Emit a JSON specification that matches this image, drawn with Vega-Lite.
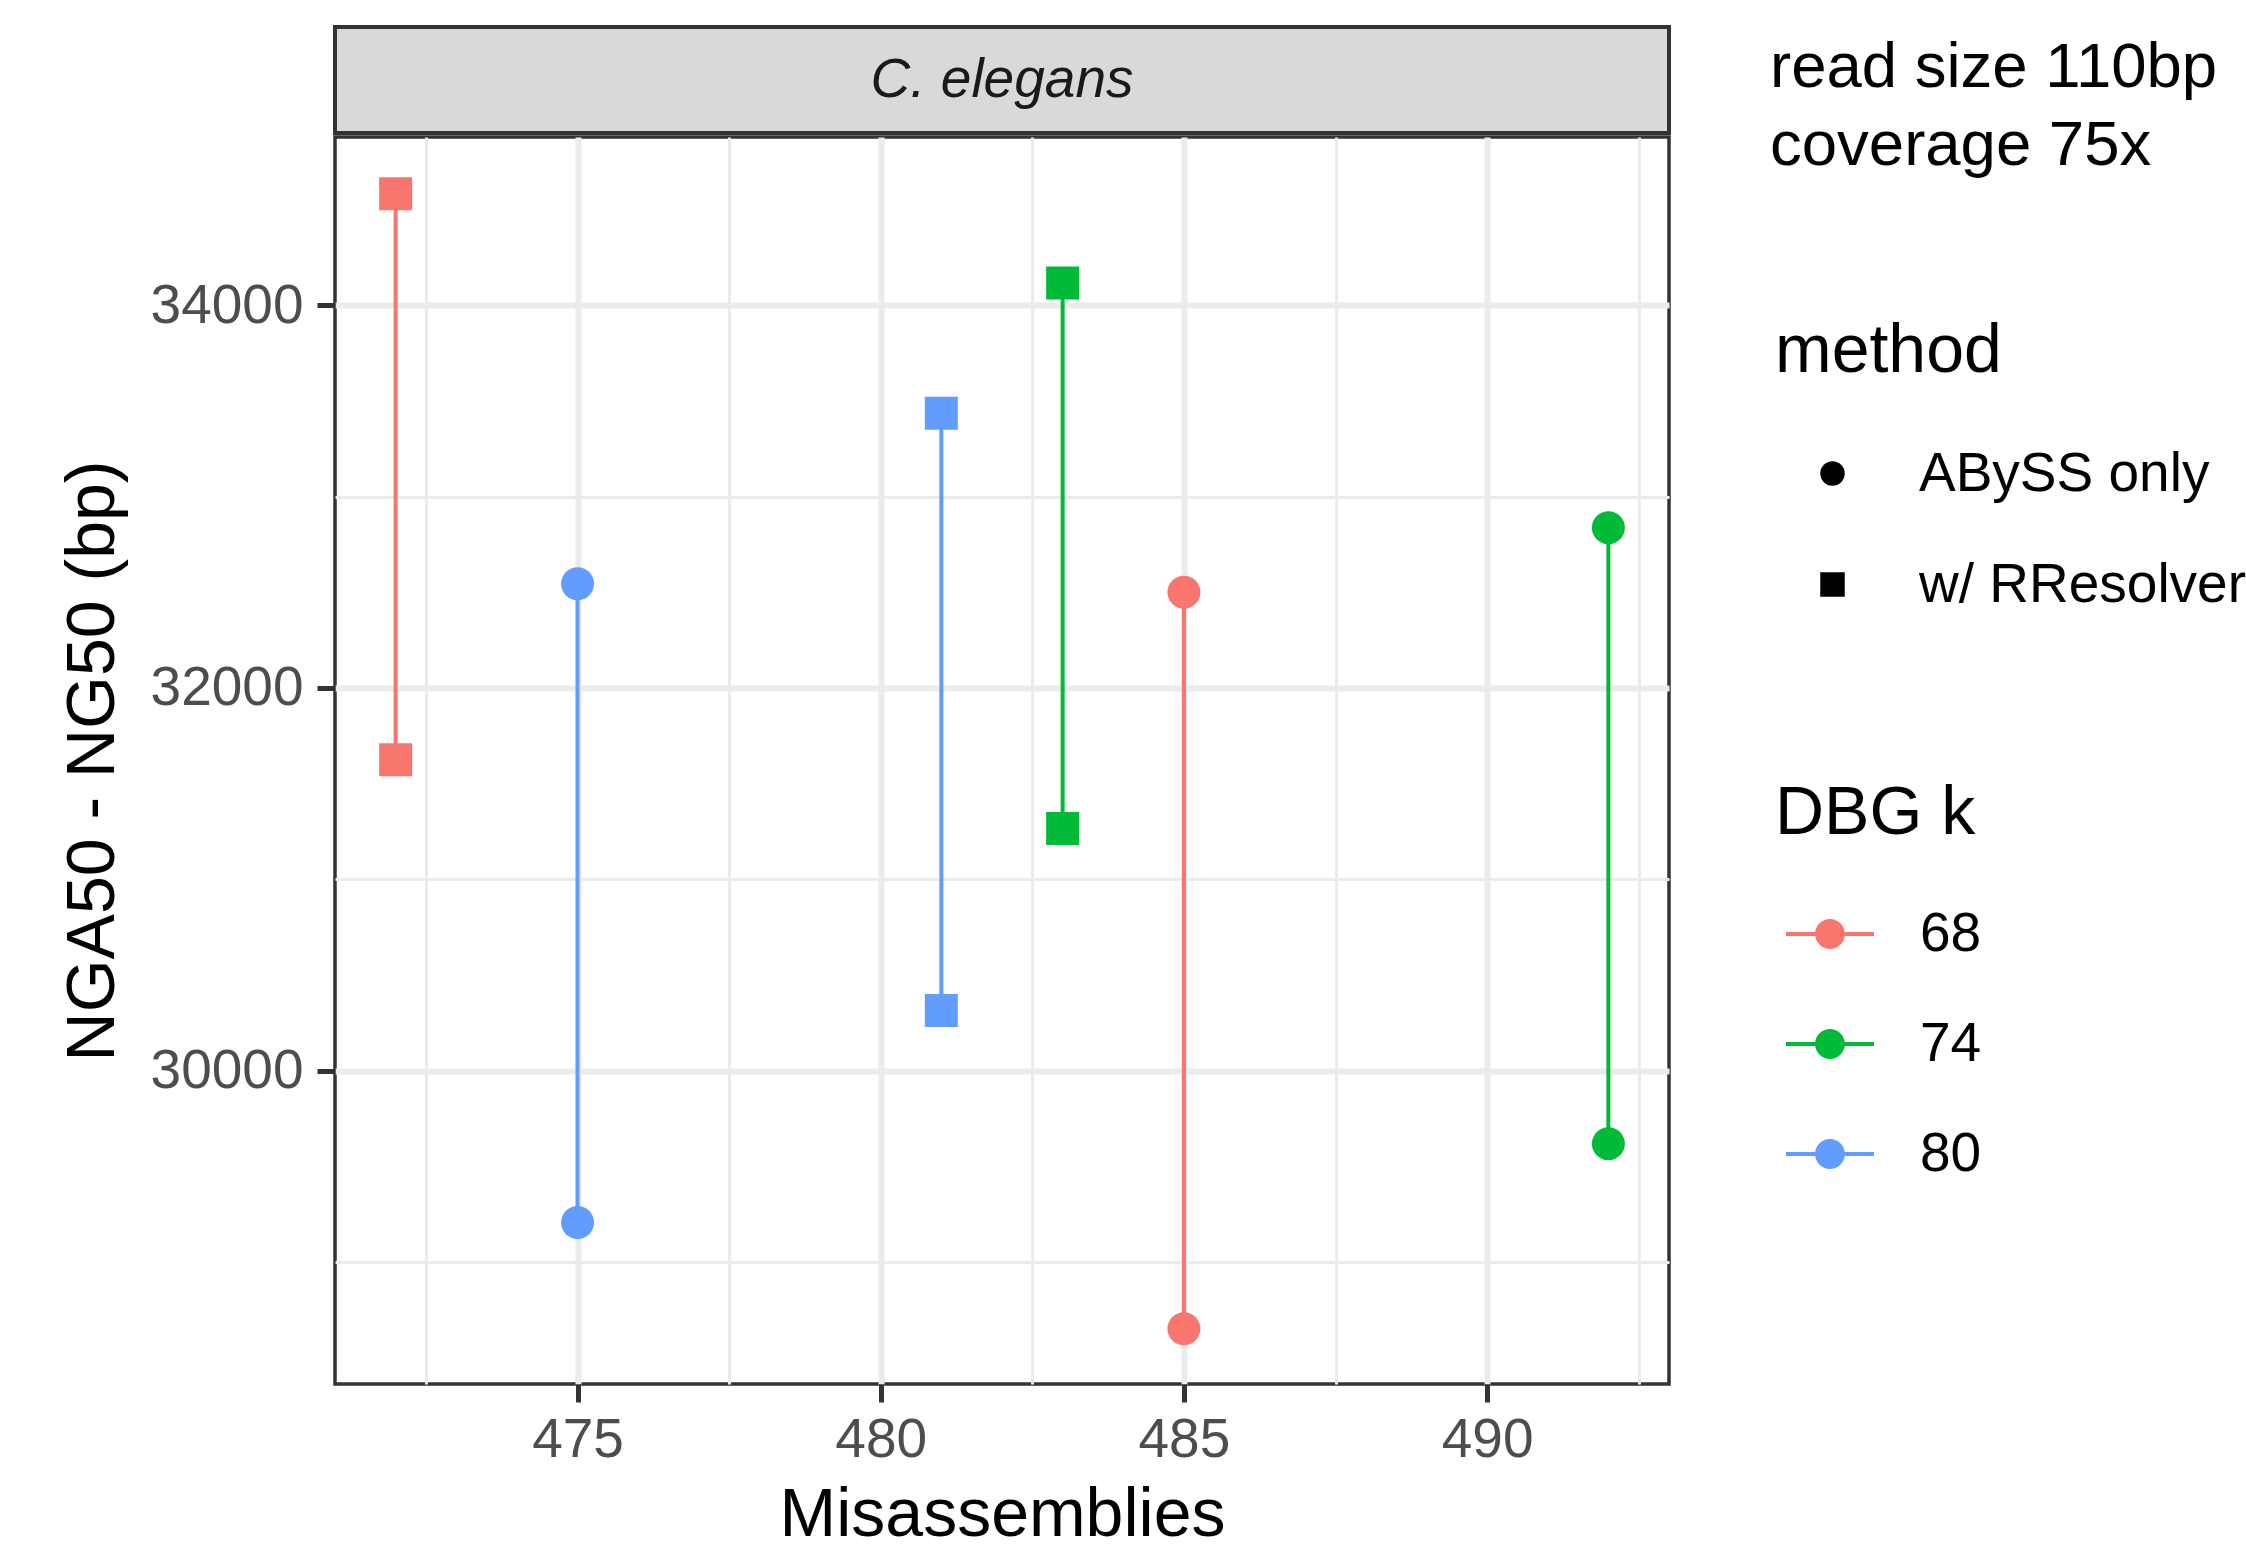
{
  "$schema": "https://vega.github.io/schema/vega-lite/v6.json",
  "padding": {"left": 57, "top": 25, "right": 0, "bottom": 0},
  "background": "white",
  "spacing": 0,
  "config": {
    "font": "Liberation Sans",
    "view": {"stroke": null},
    "legend": {
      "orient": "none",
      "labelFontSize": 55,
      "labelColor": "black",
      "labelLimit": 0,
      "titleLimit": 0,
      "titleFontSize": 68,
      "titleFontWeight": "normal",
      "titleColor": "black",
      "titleAnchor": "start",
      "padding": 0
    }
  },
  "vconcat": [
    {
      "width": 1334,
      "height": 106,
      "view": {"fill": "#D9D9D9", "stroke": "#333333", "strokeWidth": 4},
      "data": {"values": [{"species": "C. elegans"}]},
      "mark": {"type": "text", "fontSize": 55, "fontStyle": "italic", "color": "#1A1A1A", "baseline": "middle", "align": "center"},
      "encoding": {"text": {"field": "species", "type": "nominal"}}
    },
    {
      "width": 1334,
      "height": 1247,
      "view": {"fill": "white", "stroke": "#333333", "strokeWidth": 3.5},
      "data": {
        "values": [
          {"k": 68, "method": "w/ RResolver", "misassemblies": 472, "stat": "NG50", "value": 34583, "setting": "read size 110bp, coverage 75x"},
          {"k": 68, "method": "w/ RResolver", "misassemblies": 472, "stat": "NGA50", "value": 31625, "setting": "read size 110bp, coverage 75x"},
          {"k": 80, "method": "ABySS only", "misassemblies": 475, "stat": "NG50", "value": 32545, "setting": "read size 110bp, coverage 75x"},
          {"k": 80, "method": "ABySS only", "misassemblies": 475, "stat": "NGA50", "value": 29206, "setting": "read size 110bp, coverage 75x"},
          {"k": 80, "method": "w/ RResolver", "misassemblies": 481, "stat": "NG50", "value": 33436, "setting": "read size 110bp, coverage 75x"},
          {"k": 80, "method": "w/ RResolver", "misassemblies": 481, "stat": "NGA50", "value": 30314, "setting": "read size 110bp, coverage 75x"},
          {"k": 74, "method": "w/ RResolver", "misassemblies": 483, "stat": "NG50", "value": 34117, "setting": "read size 110bp, coverage 75x"},
          {"k": 74, "method": "w/ RResolver", "misassemblies": 483, "stat": "NGA50", "value": 31265, "setting": "read size 110bp, coverage 75x"},
          {"k": 68, "method": "ABySS only", "misassemblies": 485, "stat": "NG50", "value": 32501, "setting": "read size 110bp, coverage 75x"},
          {"k": 68, "method": "ABySS only", "misassemblies": 485, "stat": "NGA50", "value": 28651, "setting": "read size 110bp, coverage 75x"},
          {"k": 74, "method": "ABySS only", "misassemblies": 492, "stat": "NG50", "value": 32838, "setting": "read size 110bp, coverage 75x"},
          {"k": 74, "method": "ABySS only", "misassemblies": 492, "stat": "NGA50", "value": 29618, "setting": "read size 110bp, coverage 75x"}
        ]
      },
      "encoding": {
        "x": {
          "field": "misassemblies",
          "type": "quantitative",
          "title": "Misassemblies",
          "scale": {"domain": [471, 493], "nice": false, "zero": false},
          "axis": {
            "values": [472.5, 475, 477.5, 480, 482.5, 485, 487.5, 490, 492.5],
            "format": "d",
            "labelExpr": "datum.value % 5 === 0 ? datum.label : ''",
            "labelOverlap": false,
            "labelFlush": false,
            "domain": false,
            "grid": true,
            "gridColor": "#EBEBEB",
            "gridWidth": {"condition": {"test": "datum.value % 5 === 0", "value": 6}, "value": 3},
            "tickColor": "#333333",
            "tickWidth": 5,
            "tickSize": 18,
            "tickOpacity": {"condition": {"test": "datum.value % 5 === 0", "value": 1}, "value": 0},
            "labelFontSize": 55,
            "labelColor": "#4D4D4D",
            "labelPadding": 11,
            "titleFontSize": 68,
            "titleFontWeight": "normal",
            "titleColor": "black",
            "titlePadding": 14
          }
        },
        "y": {
          "field": "value",
          "type": "quantitative",
          "title": "NGA50 - NG50 (bp)",
          "scale": {"domain": [28362, 34880], "nice": false, "zero": false},
          "axis": {
            "values": [29000, 30000, 31000, 32000, 33000, 34000],
            "format": "d",
            "labelExpr": "datum.value % 2000 === 0 ? datum.label : ''",
            "labelOverlap": false,
            "labelFlush": false,
            "domain": false,
            "grid": true,
            "gridColor": "#EBEBEB",
            "gridWidth": {"condition": {"test": "datum.value % 2000 === 0", "value": 6}, "value": 3},
            "tickColor": "#333333",
            "tickWidth": 5,
            "tickSize": 18,
            "tickOpacity": {"condition": {"test": "datum.value % 2000 === 0", "value": 1}, "value": 0},
            "labelFontSize": 55,
            "labelColor": "#4D4D4D",
            "labelPadding": 14,
            "titleFontSize": 68,
            "titleFontWeight": "normal",
            "titleColor": "black",
            "titlePadding": 23
          }
        },
        "color": {
          "field": "k",
          "type": "nominal",
          "title": "DBG k",
          "scale": {"domain": [68, 74, 80], "range": ["#F8766D", "#00BA38", "#619CFF"]},
          "legend": {
            "legendX": 1440,
            "legendY": 753,
            "symbolType": "M-1,-0.045H-0.3V0.045H-1Z M0.3,-0.045H1V0.045H0.3Z M-0.34,0A0.34,0.34 0 1,1 0.34,0A0.34,0.34 0 1,1 -0.34,0Z",
            "symbolSize": 7744,
            "symbolStrokeWidth": 0,
            "symbolOpacity": 1,
            "symbolOffset": 11,
            "labelOffset": 46,
            "rowPadding": 38,
            "titlePadding": 42
          }
        }
      },
      "layer": [
        {
          "mark": {"type": "line", "strokeWidth": 4},
          "encoding": {"detail": {"field": "method", "type": "nominal"}}
        },
        {
          "mark": {"type": "point", "filled": true, "opacity": 1},
          "encoding": {
            "size": {
              "field": "setting",
              "type": "ordinal",
              "title": ["read size 110bp", "coverage 75x"],
              "scale": {"range": [1089, 1089]},
              "legend": {
                "legendX": 1435,
                "legendY": 10,
                "titleFontSize": 63.5,
                "titleLineHeight": 78,
                "symbolOpacity": 0,
                "symbolSize": 100,
                "labelExpr": "''",
                "labelFontSize": 10,
                "titlePadding": 0,
                "rowPadding": 0
              }
            },
            "shape": {
              "field": "method",
              "type": "nominal",
              "title": "method",
              "scale": {"domain": ["ABySS only", "w/ RResolver"], "range": ["circle", "square"]},
              "legend": {
                "legendX": 1440,
                "legendY": 291,
                "symbolSize": 600,
                "symbolFillColor": "black",
                "symbolStrokeWidth": 0,
                "symbolOffset": 30,
                "labelOffset": 59,
                "rowPadding": 55,
                "titlePadding": 60
              }
            }
          }
        }
      ]
    }
  ]
}
